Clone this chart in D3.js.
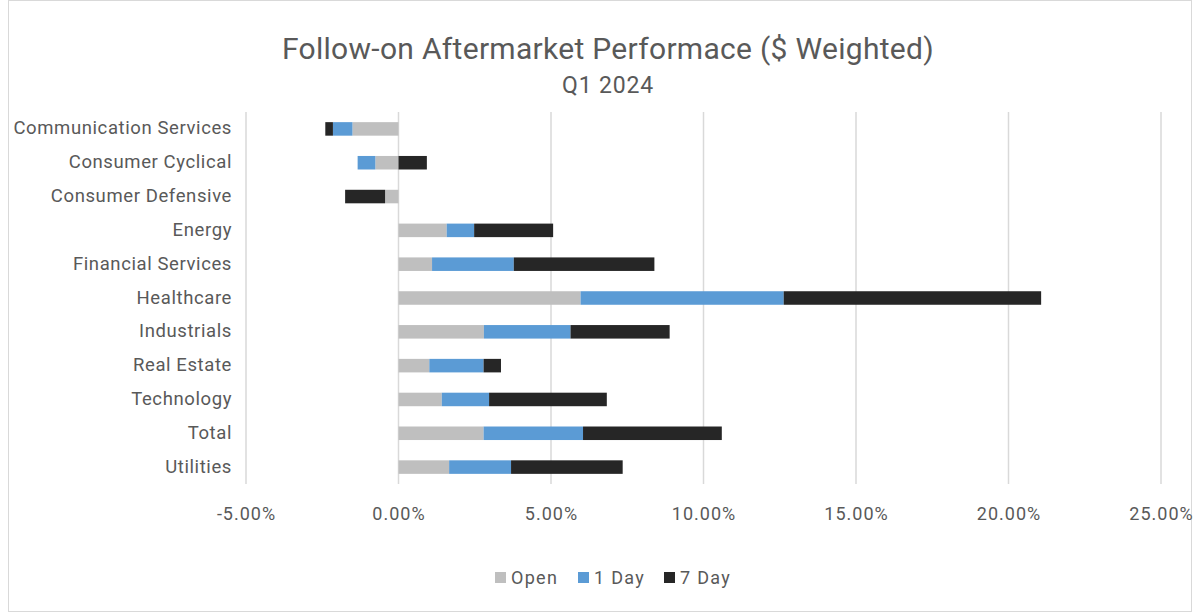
<!DOCTYPE html>
<html>
<head>
<meta charset="utf-8">
<script src="https://cdn.jsdelivr.net/npm/d3@7"></script>
<style>
  body { margin: 0; background: #fff; }
  text { font-family: Roboto, "Noto Sans", sans-serif; fill: #595959; }
</style>
</head>
<body>
<div id="chart-container"></div>
<script>
// data (percent)
const sectors = ["Communication Services", "Consumer Cyclical", "Consumer Defensive", "Energy",
    "Financial Services", "Healthcare", "Industrials", "Real Estate", "Technology", "Total", "Utilities"];
const openVals = [-1.51, -0.76, -0.44, 1.58, 1.10, 5.97, 2.80, 1.01, 1.42, 2.79, 1.66];
const day1Vals = [-0.64, -0.58, 0.00, 0.90, 2.68, 6.66, 2.84, 1.78, 1.55, 3.26, 2.03];
const day7Vals = [-0.25, 0.93, -1.31, 2.59, 4.61, 8.44, 3.25, 0.57, 3.86, 4.55, 3.66];
const seriesNames = ["Open", "1 Day", "7 Day"];
const xTicks = [-5, 0, 5, 10, 15, 20, 25];

const colors = { "Open": "#bfbfbf", "1 Day": "#5b9bd5", "7 Day": "#262626" };

const svgWidth = 1196, svgHeight = 614;
const plot = { left: 246, right: 1161, top: 112, bottom: 484 };

const svg = d3.select("#chart-container").append("svg")
    .attr("width", svgWidth)
    .attr("height", svgHeight);

// chart border
svg.append("rect")
    .attr("x", 8.5).attr("y", 0.5)
    .attr("width", 1183).attr("height", 611)
    .attr("fill", "none").attr("stroke", "#d9d9d9");

const rows = sectors.map((s, i) => ({
    sector: s, "Open": openVals[i], "1 Day": day1Vals[i], "7 Day": day7Vals[i]
}));

const stacked = d3.stack()
    .keys(seriesNames)
    .offset(d3.stackOffsetDiverging)(rows);

const xScale = d3.scaleLinear().domain([-5, 25]).range([plot.left, plot.right]);
const yScale = d3.scaleBand().domain(sectors).range([plot.top, plot.bottom]).paddingInner(0.6).paddingOuter(0.3);

// gridlines
svg.append("g")
    .selectAll("line")
    .data(xTicks)
    .join("line")
    .attr("x1", d => xScale(d)).attr("x2", d => xScale(d))
    .attr("y1", plot.top).attr("y2", plot.bottom)
    .attr("stroke", "#d9d9d9").attr("stroke-width", 1.5);

// bars
svg.append("g")
    .selectAll("g")
    .data(stacked)
    .join("g")
    .attr("fill", d => colors[d.key])
    .selectAll("rect")
    .data(d => d)
    .join("rect")
    .attr("x", d => xScale(Math.min(d[0], d[1])))
    .attr("width", d => Math.abs(xScale(d[1]) - xScale(d[0])))
    .attr("y", d => yScale(d.data.sector))
    .attr("height", yScale.bandwidth());

// y axis labels
const yAxis = svg.append("g")
    .attr("transform", "translate(232,0)")
    .call(d3.axisLeft(yScale).tickSize(0).tickPadding(0));
yAxis.select(".domain").remove();
yAxis.selectAll("text")
    .style("font-size", "18.5px")
    .style("letter-spacing", "0.6px")
    .attr("dy", "0.3em")
    .attr("fill", "#595959");

// x axis labels
const xAxis = svg.append("g")
    .attr("transform", "translate(0,507)")
    .call(d3.axisBottom(xScale).tickValues(xTicks).tickSize(0).tickPadding(0)
        .tickFormat(d => d.toFixed(2) + "%"));
xAxis.select(".domain").remove();
xAxis.selectAll("text")
    .style("font-size", "18px")
    .style("letter-spacing", "1px")
    .attr("fill", "#595959");

// title
svg.append("text")
    .attr("x", 608).attr("y", 59)
    .attr("text-anchor", "middle")
    .style("font-size", "30px")
    .style("letter-spacing", "0.3px")
    .text("Follow-on Aftermarket Performace ($ Weighted)");
svg.append("text")
    .attr("x", 608).attr("y", 93)
    .attr("text-anchor", "middle")
    .style("font-size", "23px")
    .style("letter-spacing", "0.8px")
    .text("Q1 2024");

// legend
const legendX = [495, 578, 664];
const legend = svg.append("g")
    .selectAll("g")
    .data(seriesNames)
    .join("g")
    .attr("transform", (d, i) => `translate(${legendX[i]},572)`);
legend.append("rect")
    .attr("width", 11).attr("height", 11)
    .attr("fill", d => colors[d]);
legend.append("text")
    .attr("x", 16).attr("y", 12)
    .style("font-size", "18px")
    .style("letter-spacing", "1.3px")
    .text(d => d);
</script>
</body>
</html>
